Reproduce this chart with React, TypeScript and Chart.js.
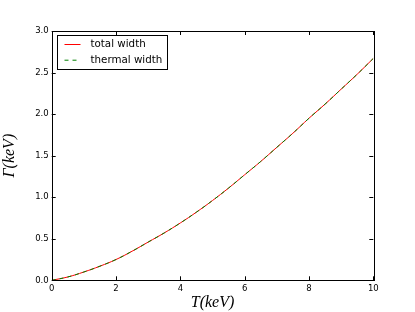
import React, { useEffect, useRef } from "react";
import { Chart, registerables } from "chart.js";

Chart.register(...registerables);

const temperature = [0, 0.5, 1, 1.5, 2, 2.5, 3, 3.5, 4, 4.5, 5, 5.5, 6, 6.5, 7, 7.5, 8, 8.5, 9, 9.5, 10];
const totalWidth = [0, 0.04, 0.1, 0.17, 0.25, 0.35, 0.46, 0.57, 0.69, 0.82, 0.96, 1.11, 1.27, 1.43, 1.6, 1.77, 1.95, 2.12, 2.3, 2.48, 2.67];
const thermalWidth = [0, 0.04, 0.1, 0.17, 0.25, 0.35, 0.46, 0.57, 0.69, 0.82, 0.96, 1.11, 1.27, 1.43, 1.6, 1.77, 1.95, 2.12, 2.3, 2.48, 2.67];
const seriesLabels = ["total width", "thermal width"];
const xTitle = "T(keV)";
const yTitle = "Γ(keV)";

const frameAndTicks = {
  id: "frameAndTicks",
  afterDatasetsDraw(chart: any) {
    const { ctx, chartArea: a } = chart;
    const xs = chart.scales.x;
    const ys = chart.scales.y;
    ctx.save();
    ctx.strokeStyle = "#000";
    ctx.lineWidth = 1;
    ctx.beginPath();
    for (const t of xs.ticks) {
      const p = Math.round(xs.getPixelForValue(t.value)) + 0.5;
      ctx.moveTo(p, a.bottom);
      ctx.lineTo(p, a.bottom - 4);
      ctx.moveTo(p, a.top);
      ctx.lineTo(p, a.top + 4);
    }
    for (const t of ys.ticks) {
      const p = Math.round(ys.getPixelForValue(t.value)) + 0.5;
      ctx.moveTo(a.left, p);
      ctx.lineTo(a.left + 4, p);
      ctx.moveTo(a.right, p);
      ctx.lineTo(a.right - 4, p);
    }
    ctx.stroke();
    ctx.strokeRect(Math.round(a.left) + 0.5, Math.round(a.top) + 0.5, Math.round(a.right - a.left), Math.round(a.bottom - a.top));

    // legend
    const lx = Math.round(a.left) + 5.5;
    const ly = Math.round(a.top) + 4.5;
    const lw = 110;
    const lh = 34;
    ctx.fillStyle = "#fff";
    ctx.fillRect(lx, ly, lw, lh);
    ctx.strokeRect(lx, ly, lw, lh);
    ctx.font = "10.3px 'DejaVu Sans'";
    ctx.textBaseline = "middle";
    chart.data.datasets.forEach((ds: any, i: number) => {
      const yy = ly + 9 + i * 15.7;
      ctx.beginPath();
      ctx.strokeStyle = ds.borderColor;
      ctx.lineWidth = 1;
      ctx.setLineDash(ds.borderDash || []);
      ctx.moveTo(lx + 7, yy);
      ctx.lineTo(lx + 23, yy);
      ctx.stroke();
      ctx.setLineDash([]);
      ctx.fillStyle = "#000";
      ctx.fillText(ds.label, lx + 33, yy);
    });
    ctx.restore();
  },
};

export default function App() {
  const ref = useRef<HTMLCanvasElement>(null);
  useEffect(() => {
    if (!ref.current) return;
    const chart = new Chart(ref.current, {
      type: "line",
      data: {
        datasets: [
          {
            label: seriesLabels[0],
            data: temperature.map((t, i) => ({ x: t, y: totalWidth[i] })),
            borderColor: "#ff0000",
            borderWidth: 1,
            pointRadius: 0,
            tension: 0.4,
            order: 1,
          },
          {
            label: seriesLabels[1],
            data: temperature.map((t, i) => ({ x: t, y: thermalWidth[i] })),
            borderColor: "#008000",
            borderWidth: 1,
            borderDash: [4, 4],
            pointRadius: 0,
            tension: 0.4,
            order: 0,
          },
        ],
      },
      options: {
        responsive: false,
        animation: false,
        devicePixelRatio: 1,
        layout: { padding: { left: 0, top: 31, right: 41.7, bottom: 0 } },
        plugins: { legend: { display: false }, tooltip: { enabled: false } },
        scales: {
          x: {
            type: "linear",
            min: 0,
            max: 10,
            grid: { display: false, drawTicks: false },
            border: { display: false },
            ticks: {
              stepSize: 2,
              padding: 3,
              color: "#000",
              font: { family: "'DejaVu Sans'", size: 8.5 },
              maxRotation: 0,
            },
            title: {
              display: true,
              text: xTitle,
              color: "#000",
              font: { family: "'Liberation Serif'", size: 16, style: "italic" },
              padding: { top: 0, bottom: 0 },
            },
            afterFit: (s: any) => {
              s.height = 31.7;
            },
          },
          y: {
            type: "linear",
            min: 0,
            max: 3,
            grid: { display: false, drawTicks: false },
            border: { display: false },
            ticks: {
              stepSize: 0.5,
              padding: 3,
              color: "#000",
              font: { family: "'DejaVu Sans'", size: 8.5 },
              callback: (v: any) => Number(v).toFixed(1),
            },
            title: {
              display: true,
              text: yTitle,
              color: "#000",
              font: { family: "'Liberation Serif'", size: 16, style: "italic" },
              padding: { top: 0, bottom: 0 },
            },
            afterFit: (s: any) => {
              s.width = 51.7;
            },
          },
        },
      },
      plugins: [frameAndTicks],
    });
    return () => chart.destroy();
  }, []);
  return (
    <div style={{ position: "fixed", left: 0, top: 0, width: 415, height: 312, background: "#fff" }}>
      <canvas ref={ref} width={415} height={312} />
    </div>
  );
}
